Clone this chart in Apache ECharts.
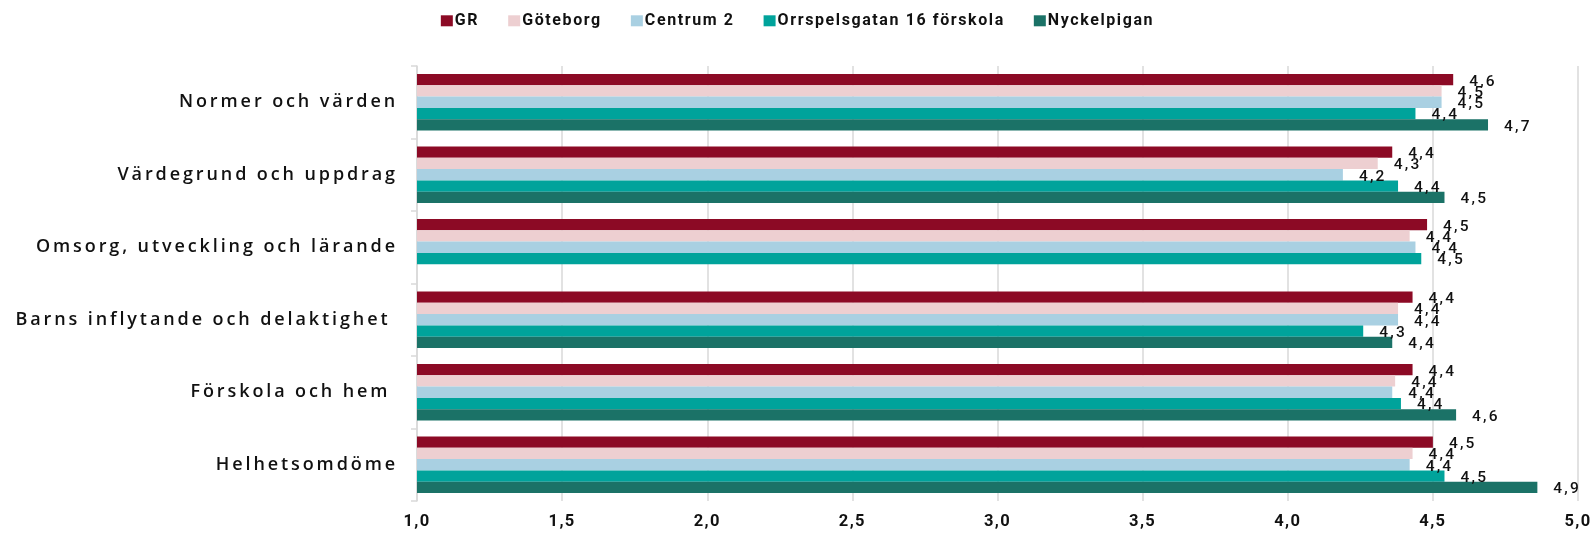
<!DOCTYPE html>
<html>
<head>
<meta charset="utf-8">
<script src="https://cdn.jsdelivr.net/npm/echarts@6/dist/echarts.min.js"></script>
<style>
  html, body { margin: 0; padding: 0; background: #fff; }
  #chart { width: 1595px; height: 533px; }
</style>
</head>
<body>
<div id="chart"></div>
<script>
// kategorier (uppifrån och ned)
const categories = [
  'Normer och värden',
  'Värdegrund och uppdrag',
  'Omsorg, utveckling och lärande',
  'Barns inflytande och delaktighet ',
  'Förskola och hem ',
  'Helhetsomdöme'
];

const seriesNames = ['GR', 'Göteborg', 'Centrum 2', 'Orrspelsgatan 16 förskola', 'Nyckelpigan'];
const seriesColors = ['#8c0a25', '#edcfd1', '#a9d0e2', '#00a39b', '#1b7267'];

// medelvärden per kategori
const grValues = [4.57, 4.36, 4.48, 4.43, 4.43, 4.50];
const goteborgValues = [4.53, 4.31, 4.42, 4.38, 4.37, 4.43];
const centrumValues = [4.53, 4.19, 4.44, 4.38, 4.36, 4.42];
const orrspelsValues = [4.44, 4.38, 4.46, 4.26, 4.39, 4.54];
const nyckelpiganValues = [4.69, 4.54, null, 4.36, 4.58, 4.86];

const xTicks = { min: 1, max: 5, interval: 0.5 };

const allValues = [grValues, goteborgValues, centrumValues, orrspelsValues, nyckelpiganValues];

const fmt = (v) => v.toFixed(1).replace('.', ',');

// spärrad text som i originalet (letterSpacing per teckenstorlek)
const spacingBySize = { '18px': 2.9, '16px': 1.6, '15.5px': 2.2, '16.5px': 1.4 };
function applySpacing(ctx) {
  const m = /([\d.]+px)/.exec(ctx.font);
  const s = m ? spacingBySize[m[1]] : 0;
  ctx.letterSpacing = (s || 0) + 'px';
}
const proto = CanvasRenderingContext2D.prototype;
const origFillText = proto.fillText;
const origMeasureText = proto.measureText;
proto.fillText = function () { applySpacing(this); return origFillText.apply(this, arguments); };
proto.measureText = function () { applySpacing(this); return origMeasureText.apply(this, arguments); };

const chart = echarts.init(document.getElementById('chart'));

const option = {
  animation: false,
  textStyle: { fontFamily: 'Roboto, "Liberation Sans", sans-serif' },
  color: seriesColors,
  legend: {
    top: 7,
    left: 'center',
    icon: 'rect',
    itemWidth: 12,
    itemHeight: 11,
    itemGap: 29,
    textStyle: { fontSize: 16, fontWeight: 'bold', color: '#111', padding: [0, 0, 0, -3] },
    data: seriesNames
  },
  grid: { left: 417, right: 17, top: 66, bottom: 32, outerBoundsMode: 'none' },
  xAxis: {
    type: 'value',
    min: xTicks.min,
    max: xTicks.max,
    interval: xTicks.interval,
    axisLine: { show: false },
    axisTick: { show: false },
    splitLine: { lineStyle: { color: '#d9d9d9', width: 1.5 } },
    axisLabel: {
      margin: 12,
      fontSize: 16.5,
      fontWeight: 'bold',
      color: '#111',
      formatter: fmt
    }
  },
  yAxis: {
    type: 'category',
    inverse: true,
    data: categories,
    axisLine: { show: true, lineStyle: { color: '#d9d9d9', width: 1.5 } },
    axisTick: { show: true, length: 6, lineStyle: { color: '#d9d9d9', width: 1.5 } },
    axisLabel: {
      margin: 19,
      fontSize: 18,
      fontWeight: 600,
      fontFamily: '"Open Sans", sans-serif',
      color: '#111',
      padding: [5, 0, 0, 0]
    }
  },
  series: seriesNames.map((name, i) => ({
    name: name,
    type: 'bar',
    barGap: '0%',
    barCategoryGap: '22%',
    data: allValues[i],
    label: {
      show: true,
      position: 'right',
      distance: 16,
      offset: [0, 2],
      fontSize: 15.5,
      fontWeight: 500,
      color: '#111',
      formatter: (p) => fmt(p.value)
    }
  }))
};

chart.setOption(option);
</script>
</body>
</html>
